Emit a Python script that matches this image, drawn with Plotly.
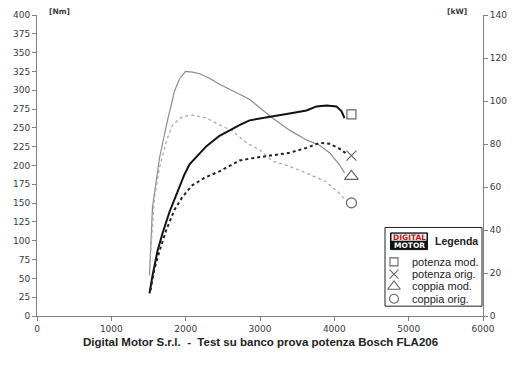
import plotly.graph_objects as go

# ---- data ----
rpm_coppia_mod = [1513, 1554, 1648, 1742, 1850, 1917, 1998, 2092, 2186, 2321, 2455, 2590, 2724,
                  2859, 2993, 3155, 3397, 3626, 3801, 3935, 4070, 4137]
nm_coppia_mod = [54, 145, 210, 254, 299, 315, 325, 324, 322, 316, 308, 301, 295,
                 288, 277, 264, 247, 234, 227, 217, 201, 190]

rpm_coppia_orig = [1513, 1581, 1648, 1742, 1823, 1957, 2092, 2280, 2455, 2630, 2818, 2993,
                   3168, 3397, 3626, 3895, 4070, 4150]
nm_coppia_orig = [63, 158, 197, 233, 254, 265, 267, 263, 254, 246, 230, 221,
                  206, 199, 190, 178, 163, 154]

rpm_potenza_mod = [1513, 1554, 1621, 1688, 1783, 1877, 1984, 2052, 2186, 2280, 2455, 2590, 2724,
                   2859, 2953, 3168, 3397, 3626, 3760, 3895, 4029, 4097, 4137]
kw_potenza_mod = [10.5, 18.8, 30.2, 38.4, 48.5, 56.7, 65.9, 70.5, 75.6, 79.0, 83.8, 86.5, 88.8,
                  91.0, 91.5, 92.9, 94.2, 95.6, 97.5, 97.9, 97.5, 95.2, 92.0]

rpm_potenza_orig = [1527, 1581, 1648, 1742, 1850, 1957, 2092, 2267, 2455, 2724,
                    2859, 2953, 3168, 3397, 3626, 3801, 3935, 4070, 4164]
kw_potenza_orig = [11.9, 22.0, 30.2, 40.3, 49.4, 55.4, 60.9, 64.5, 67.3, 72.3,
                   73.2, 73.7, 74.6, 75.9, 78.2, 80.5, 80.1, 77.8, 75.5]

marker_rpm = 4230
marker_kw = [93.8, 74.6]      # potenza mod., potenza orig.
marker_nm = [185.5, 150.3]    # coppia mod., coppia orig.

legend_labels = ["potenza mod.", "potenza orig.", "coppia mod.", "coppia orig."]
legend_symbols = ["square-open", "x-thin-open", "triangle-up-open", "circle-open"]

x_ticks = [0, 1000, 2000, 3000, 4000, 5000, 6000]
y_ticks = list(range(0, 401, 25))
y2_ticks = list(range(0, 141, 20))

title_text = "Digital Motor S.r.l.\u00a0 -\u00a0 Test su banco prova potenza Bosch FLA206"

# ---- figure ----
AX = "#808080"
TXT = "#3a3a3a"
MK = "#222222"
tickfont = dict(family="DejaVu Sans", size=9, color=TXT)

# plot area in pixels (for placing the decorative legend / texts)
PX0, PX1, PY0, PY1 = 37, 483, 10, 316


def px(xp):
    return (xp - PX0) / (PX1 - PX0)


def py(yp):
    return (PY1 - yp) / (PY1 - PY0)


fig = go.Figure()

fig.add_trace(go.Scatter(x=rpm_coppia_mod, y=nm_coppia_mod, mode="lines",
                         line=dict(color="#8c8c8c", width=1.2), showlegend=False))
fig.add_trace(go.Scatter(x=rpm_coppia_orig, y=nm_coppia_orig, mode="lines",
                         line=dict(color="#aaaaaa", width=1.3, dash="dot"), showlegend=False))
fig.add_trace(go.Scatter(x=rpm_potenza_mod, y=kw_potenza_mod, mode="lines", yaxis="y2",
                         line=dict(color="#111111", width=2), showlegend=False))
fig.add_trace(go.Scatter(x=rpm_potenza_orig, y=kw_potenza_orig, mode="lines", yaxis="y2",
                         line=dict(color="#222222", width=2, dash="dot"), showlegend=False))

# end-of-curve markers
fig.add_trace(go.Scatter(x=[marker_rpm] * 2, y=marker_kw, mode="markers", yaxis="y2",
                         marker=dict(symbol=legend_symbols[:2], size=[9, 10], color=MK,
                                     line=dict(color=MK, width=1.2)), showlegend=False))
fig.add_trace(go.Scatter(x=[marker_rpm] * 2, y=marker_nm, mode="markers",
                         marker=dict(symbol=legend_symbols[2:], size=[12, 10], color=MK,
                                     line=dict(color=MK, width=1.2)), showlegend=False))

# legend box drawn in pixel coordinates on a hidden overlay axis pair
LX0, LX1, LY0, LY1 = 385, 482, 226, 306
row_y = [261, 273.5, 286, 298.5]
sym_x = 394
fig.add_trace(go.Scatter(x=[sym_x] * 4, y=row_y, mode="markers", xaxis="x3", yaxis="y3",
                         marker=dict(symbol=legend_symbols, size=[8, 9, 11, 9], color=MK,
                                     line=dict(color=MK, width=1.1)), showlegend=False))

shapes = [
    dict(type="rect", xref="x3", yref="y3", x0=LX0, x1=LX1, y0=LY0, y1=LY1,
         line=dict(color="#222", width=1), fillcolor="white", layer="below"),
    dict(type="rect", xref="x3", yref="y3", x0=390.5, x1=427.5, y0=231.5, y1=248.5,
         line=dict(color="#111", width=1), fillcolor="#111", layer="below"),
    dict(type="rect", xref="x3", yref="y3", x0=391.5, x1=426.5, y0=232.5, y1=239.5,
         line=dict(width=0), fillcolor="#f4f4f4", layer="below"),
]

annotations = [
    dict(text="<b>DIGITAL</b>", x=409, y=236, xref="x3", yref="y3", showarrow=False,
         font=dict(family="DejaVu Sans", size=7.5, color="#d01010"), xanchor="center", yanchor="middle"),
    dict(text="<b>MOTOR</b>", x=409, y=244.3, xref="x3", yref="y3", showarrow=False,
         font=dict(family="DejaVu Sans", size=7.5, color="white"), xanchor="center", yanchor="middle"),
    dict(text="<b>Legenda</b>", x=433, y=240, xref="x3", yref="y3", showarrow=False,
         font=dict(family="Liberation Sans", size=10.5, color="#222"),
         xanchor="left", yanchor="middle"),
    dict(text="<b>[Nm]</b>", x=px(47), y=py(6.5), xref="paper", yref="paper", showarrow=False,
         font=dict(family="DejaVu Sans", size=7.5, color=TXT), xanchor="left", yanchor="middle"),
    dict(text="<b>[kW]</b>", x=px(445), y=py(6.5), xref="paper", yref="paper", showarrow=False,
         font=dict(family="DejaVu Sans", size=7.5, color=TXT), xanchor="left", yanchor="middle"),
    dict(text="<b>" + title_text + "</b>", x=px(260), y=py(342), xref="paper", yref="paper",
         showarrow=False, font=dict(family="Liberation Sans", size=11.5, color="#222"),
         xanchor="center", yanchor="middle"),
]
for lab, yy in zip(legend_labels, row_y):
    annotations.append(dict(text=lab, x=410, y=yy, xref="x3", yref="y3", showarrow=False,
                            font=dict(family="Liberation Sans", size=11, color="#222"),
                            xanchor="left", yanchor="middle"))

fig.update_layout(
    width=520, height=367,
    margin=dict(l=37, r=37, t=10, b=51),
    paper_bgcolor="white", plot_bgcolor="white",
    hovermode=False,
    showlegend=False,
    xaxis=dict(range=[0, 6000], tickvals=x_ticks, showgrid=False, zeroline=False,
               showline=True, linecolor=AX, linewidth=1, ticks="outside", ticklen=4,
               tickcolor=AX, tickfont=tickfont),
    yaxis=dict(range=[0, 400], tickvals=y_ticks, showgrid=False, zeroline=False,
               showline=True, linecolor=AX, linewidth=1, ticks="outside", ticklen=4,
               tickcolor=AX, tickfont=tickfont),
    yaxis2=dict(range=[0, 140], tickvals=y2_ticks, overlaying="y", side="right",
                showgrid=False, zeroline=False, showline=True, linecolor=AX, linewidth=1,
                ticks="outside", ticklen=4, tickcolor=AX, tickfont=tickfont),
    xaxis3=dict(range=[PX0, PX1], overlaying="x", anchor="y3", visible=False, fixedrange=True),
    yaxis3=dict(range=[PY1, PY0], overlaying="y", anchor="x3", visible=False, fixedrange=True),
    shapes=shapes,
    annotations=annotations,
)

fig.write_html("out.html")
